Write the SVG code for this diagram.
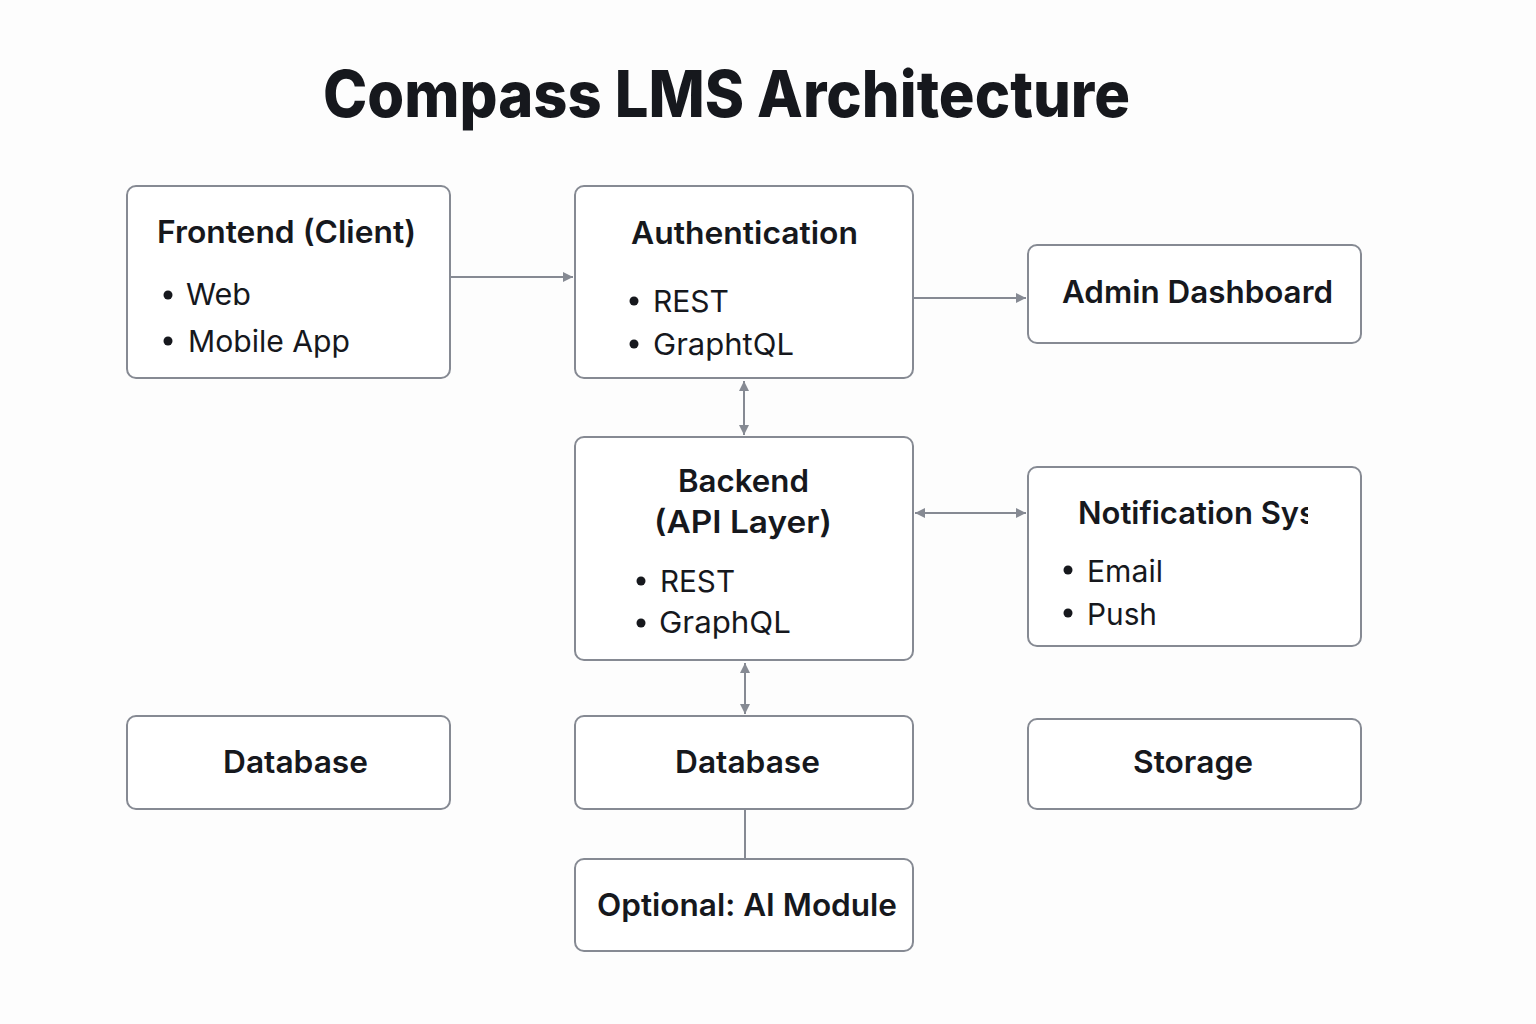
<svg xmlns="http://www.w3.org/2000/svg" width="1536" height="1024" viewBox="0 0 1536 1024">
<style>
.box{fill:#ffffff;stroke:#868a93;stroke-width:2}
.t{font-family:Inter,"Noto Sans","Liberation Sans",sans-serif;fill:#16181d}
.h{font-size:31px;font-weight:600}
.b{font-size:30px;font-weight:400}
.title{font-size:64px;font-weight:800}
.c{stroke:#868a93;stroke-width:2;fill:none}
.dot{fill:#16181d}
</style>
<defs>
<marker id="ah" viewBox="0 0 10 10" refX="10" refY="5" markerWidth="11" markerHeight="10" markerUnits="userSpaceOnUse" orient="auto-start-reverse">
<path d="M0,0 L10,5 L0,10 z" fill="#868a93"/>
</marker>
<clipPath id="notifClip"><rect x="1028" y="480" width="280" height="60"/></clipPath>
</defs>
<rect width="1536" height="1024" fill="#fdfdfd"/>
<text class="t title" x="323" y="117" textLength="807" lengthAdjust="spacingAndGlyphs">Compass LMS Architecture</text>

<g id="connectors">
<line class="c" x1="451" y1="277" x2="573" y2="277" marker-end="url(#ah)"/>
<line class="c" x1="914" y1="298" x2="1026" y2="298" marker-end="url(#ah)"/>
<line class="c" x1="744" y1="381" x2="744" y2="435" marker-start="url(#ah)" marker-end="url(#ah)"/>
<line class="c" x1="915" y1="513" x2="1026" y2="513" marker-start="url(#ah)" marker-end="url(#ah)"/>
<line class="c" x1="745" y1="663" x2="745" y2="714" marker-start="url(#ah)" marker-end="url(#ah)"/>
<line class="c" x1="745" y1="810" x2="745" y2="859"/>
</g>

<g id="frontend">
<rect class="box" x="127" y="186" width="323" height="192" rx="9"/>
<text class="t h" x="157" y="243" textLength="259" lengthAdjust="spacingAndGlyphs">Frontend (Client)</text>
<circle class="dot" cx="168" cy="295" r="4.5"/>
<text class="t b" x="186" y="305" textLength="65" lengthAdjust="spacingAndGlyphs">Web</text>
<circle class="dot" cx="168" cy="341" r="4.5"/>
<text class="t b" x="188" y="352" textLength="162" lengthAdjust="spacingAndGlyphs">Mobile App</text>
</g>

<g id="authentication">
<rect class="box" x="575" y="186" width="338" height="192" rx="9"/>
<text class="t h" x="631" y="244" textLength="227" lengthAdjust="spacingAndGlyphs">Authentication</text>
<circle class="dot" cx="634" cy="301" r="4.5"/>
<text class="t b" x="653" y="312" textLength="76" lengthAdjust="spacingAndGlyphs">REST</text>
<circle class="dot" cx="634" cy="344" r="4.5"/>
<text class="t b" x="653" y="355" textLength="141" lengthAdjust="spacingAndGlyphs">GraphtQL</text>
</g>

<g id="admin">
<rect class="box" x="1028" y="245" width="333" height="98" rx="9"/>
<text class="t h" x="1062" y="303" textLength="271" lengthAdjust="spacingAndGlyphs">Admin Dashboard</text>
</g>

<g id="backend">
<rect class="box" x="575" y="437" width="338" height="223" rx="9"/>
<text class="t h" x="678" y="492" textLength="131" lengthAdjust="spacingAndGlyphs">Backend</text>
<text class="t h" x="654" y="533" textLength="178" lengthAdjust="spacingAndGlyphs">(API Layer)</text>
<circle class="dot" cx="641" cy="581" r="4.5"/>
<text class="t b" x="660" y="592" textLength="75" lengthAdjust="spacingAndGlyphs">REST</text>
<circle class="dot" cx="641" cy="623" r="4.5"/>
<text class="t b" x="659" y="633" textLength="132" lengthAdjust="spacingAndGlyphs">GraphQL</text>
</g>

<g id="notification">
<rect class="box" x="1028" y="467" width="333" height="179" rx="9"/>
<text class="t h" x="1078" y="524" clip-path="url(#notifClip)">Notification Sys</text>
<circle class="dot" cx="1068" cy="570" r="4.5"/>
<text class="t b" x="1087" y="582" textLength="76" lengthAdjust="spacingAndGlyphs">Email</text>
<circle class="dot" cx="1068" cy="613" r="4.5"/>
<text class="t b" x="1087" y="625" textLength="70" lengthAdjust="spacingAndGlyphs">Push</text>
</g>

<g id="database-left">
<rect class="box" x="127" y="716" width="323" height="93" rx="9"/>
<text class="t h" x="223" y="773" textLength="145" lengthAdjust="spacingAndGlyphs">Database</text>
</g>

<g id="database-mid">
<rect class="box" x="575" y="716" width="338" height="93" rx="9"/>
<text class="t h" x="675" y="773" textLength="145" lengthAdjust="spacingAndGlyphs">Database</text>
</g>

<g id="storage">
<rect class="box" x="1028" y="719" width="333" height="90" rx="9"/>
<text class="t h" x="1133" y="773" textLength="120" lengthAdjust="spacingAndGlyphs">Storage</text>
</g>

<g id="ai-module">
<rect class="box" x="575" y="859" width="338" height="92" rx="9"/>
<text class="t h" x="597" y="916" textLength="300" lengthAdjust="spacingAndGlyphs">Optional: AI Module</text>
</g>
</svg>
